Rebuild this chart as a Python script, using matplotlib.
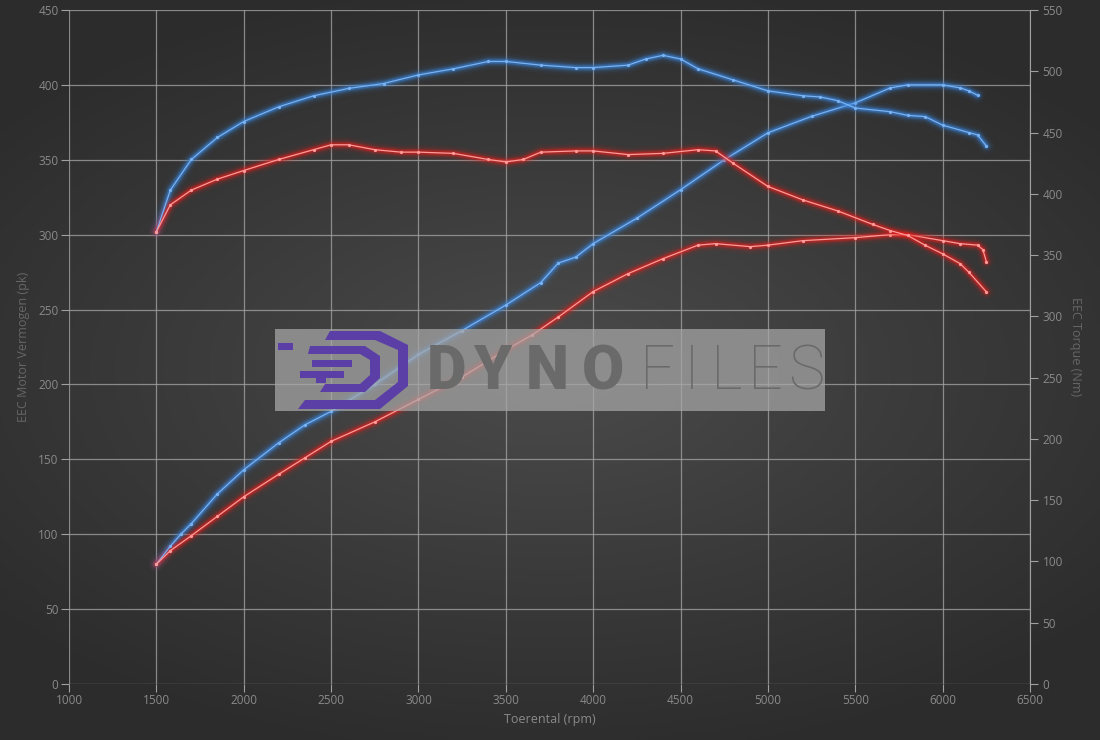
import matplotlib
matplotlib.use("Agg")
import matplotlib.pyplot as plt
import numpy as np
from matplotlib.patches import Rectangle, Polygon

plt.rcParams['font.family'] = ['Open Sans', 'DejaVu Sans']

# power (pk), left axis
rpm_pb = [1500, 1580, 1640, 1700, 1850, 2000, 2200, 2350, 2500, 2750, 3000, 3250, 3500, 3700, 3800, 3900, 4000,
          4250, 4500, 4750, 5000, 5250, 5500, 5700, 5800, 6000, 6100, 6150, 6200]
pk_blue = [80, 92, 100, 107, 127, 143, 161, 173, 182, 200, 220, 236, 253, 268, 281, 285, 294,
           311, 330, 350, 368, 379, 388, 398, 400, 400, 398, 396, 393]
rpm_pr = [1500, 1580, 1700, 1850, 2000, 2200, 2350, 2500, 2750, 3000, 3250, 3500, 3650, 3800, 4000, 4200,
          4400, 4600, 4700, 4900, 5000, 5200, 5500, 5700, 5800, 6000, 6100, 6200, 6230, 6250]
pk_red = [80, 89, 99, 112, 125, 140, 151, 162, 175, 190, 205, 223, 233, 245, 262, 274,
          284, 293, 294, 292, 293, 296, 298, 300, 300, 296, 294, 293, 290, 282]

# torque (Nm), right axis
rpm_tb = [1500, 1580, 1700, 1850, 2000, 2200, 2400, 2600, 2800, 3000, 3200, 3400, 3500, 3700, 3900, 4000,
          4200, 4300, 4400, 4500, 4600, 4800, 5000, 5200, 5300, 5400, 5500, 5700, 5800, 5900, 6000, 6150, 6200, 6250]
nm_blue = [369, 403, 428, 446, 459, 471, 480, 486, 490, 497, 502, 508, 508, 505, 503, 503,
           505, 510, 513, 510, 502, 493, 484, 480, 479, 476, 470, 467, 464, 463, 456, 450, 448, 439]
rpm_tr = [1500, 1580, 1700, 1850, 2000, 2200, 2400, 2500, 2600, 2750, 2900, 3000, 3200, 3400, 3500, 3600,
          3700, 3900, 4000, 4200, 4400, 4600, 4700, 4800, 5000, 5200, 5400, 5600, 5700, 5800, 5900, 6000,
          6100, 6150, 6250]
nm_red = [369, 391, 403, 412, 419, 428, 436, 440, 440, 436, 434, 434, 433, 428, 426, 428,
          434, 435, 435, 432, 433, 436, 435, 425, 406, 395, 386, 375, 370, 366, 358, 351,
          343, 336, 320]

GRID = "#a0a0a0"
TXT = "#8a8a8a"

fig = plt.figure(figsize=(11, 7.4), dpi=100)

# radial background
bg = fig.add_axes([0, 0, 1, 1], zorder=-5)
yy, xx = np.mgrid[-1:1:300j, -1:1:440j]
r = np.sqrt((xx / 1.1) ** 2 + (yy / 0.9) ** 2)
bg.imshow(np.clip(r, 0, 1.2), cmap=matplotlib.colors.LinearSegmentedColormap.from_list(
    "bg", ["#4b4b4b", "#3b3b3b", "#2c2c2c"]), aspect="auto", extent=[0, 1, 0, 1])
bg.set_axis_off()

ax = fig.add_axes([0.0627, 0.0757, 0.8737, 0.9108])
ax.set_facecolor("none")
ax2 = ax.twinx()
ax2.set_facecolor("none")

ax.set_xlim(1000, 6500)
ax.set_ylim(0, 450)
ax2.set_ylim(0, 550)
ax.set_xticks(np.arange(1000, 6501, 500))
ax.set_yticks(np.arange(0, 451, 50))
ax2.set_yticks(np.arange(0, 551, 50))
ax.grid(True, color=GRID, linewidth=0.9, alpha=0.8)
for a in (ax, ax2):
    for s in a.spines.values():
        s.set_visible(False)
ax2.spines['right'].set_visible(True)
ax2.spines['right'].set_color(GRID)
ax.tick_params(colors=GRID, labelcolor=TXT, labelsize=8.5, length=6, width=0.8, pad=1.5)
ax2.tick_params(colors=GRID, labelcolor=TXT, labelsize=8.5, length=6, width=0.8, pad=3)


def glow(a, x, y, core, halo):
    for lw, al in [(11, 0.05), (8, 0.08), (6, 0.13), (4.5, 0.22), (3, 0.4)]:
        a.plot(x, y, color=halo, linewidth=lw, alpha=al, solid_capstyle="round", zorder=3)
    a.plot(x, y, color=core, linewidth=0.9, zorder=4, marker="o", markersize=1.3)


glow(ax, rpm_pb, pk_blue, "#79b2f2", "#3a86e0")
glow(ax, rpm_pr, pk_red, "#ff9a9a", "#e8201c")
glow(ax2, rpm_tb, nm_blue, "#79b2f2", "#3a86e0")
glow(ax2, rpm_tr, nm_red, "#ff9a9a", "#e8201c")

ax.set_xlabel("Toerental (rpm)", color=TXT, fontsize=9, labelpad=4)
ax.set_ylabel("EEC Motor Vermogen (pk)", color="#666666", fontsize=9, labelpad=6)
ax2.set_ylabel("EEC Torque (Nm)", color="#666666", fontsize=9, rotation=270, labelpad=14)

# watermark overlay
wm = fig.add_axes([0, 0, 1, 1], zorder=10)
wm.set_xlim(0, 1100)
wm.set_ylim(740, 0)
wm.set_axis_off()
wm.add_patch(Rectangle((275, 329), 550, 82, facecolor="#a8a8a8", alpha=0.72, edgecolor="none"))
purple = "#5b3fa6"
# stylised D logo
outer = [(330, 331), (380, 331), (408, 345), (408, 386), (380, 409), (298, 409), (305, 400), (375, 400),
         (398, 382), (398, 350), (375, 340), (325, 340)]
wm.add_patch(Polygon(outer, closed=True, facecolor=purple, edgecolor="none"))
inner = [(310, 346), (365, 346), (380, 356), (380, 378), (365, 392), (320, 392), (325, 384), (360, 384),
         (370, 375), (370, 360), (360, 354), (308, 354)]
wm.add_patch(Polygon(inner, closed=True, facecolor=purple, edgecolor="none"))
for x0, x1, y0 in [(278, 293, 343), (312, 352, 360), (300, 344, 371), (316, 326, 376)]:
    wm.add_patch(Rectangle((x0, y0), x1 - x0, 7, facecolor=purple, edgecolor="none"))
for ch, xc in zip("DYNO", [446, 492, 547, 603]):
    wm.text(xc, 372, ch, fontsize=44, fontweight="black", color="#6a6a6a", va="center", ha="center",
            family=["Roboto", "DejaVu Sans"])
for ch, xc in zip("FILES", [657, 692, 727, 765, 806]):
    wm.text(xc, 372, ch, fontsize=44, fontweight="light", color="#6a6a6a", va="center", ha="center",
            family=["Roboto", "DejaVu Sans"])

fig.savefig("out.png", dpi=100)
